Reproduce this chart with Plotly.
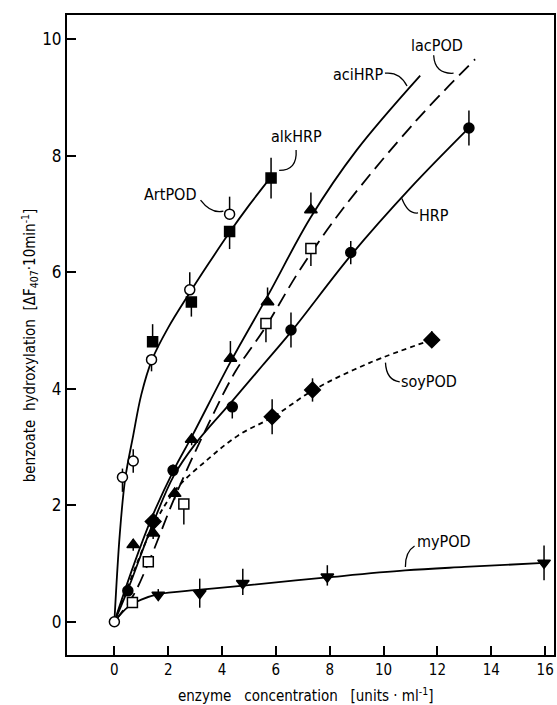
import plotly.graph_objects as go

# ---------------- data ----------------
art_x = [0.0, 0.30, 0.70, 1.38, 2.80, 4.28]
art_y = [0.0, 2.48, 2.76, 4.50, 5.70, 7.00]
art_up = [0.0, 0.15, 0.20, 0.0, 0.30, 0.30]
art_dn = [0.0, 0.25, 0.20, 0.20, 0.0, 0.0]

alk_x = [1.42, 2.86, 4.28, 5.82]
alk_y = [4.81, 5.49, 6.70, 7.62]
alk_up = [0.30, 0.0, 0.0, 0.35]
alk_dn = [0.0, 0.25, 0.30, 0.35]

aci_x = [0.70, 1.44, 2.24, 2.87, 4.31, 5.69, 7.30]
aci_y = [1.32, 1.52, 2.20, 3.13, 4.52, 5.49, 7.07]
aci_up = [0.10, 0.10, 0.10, 0.10, 0.30, 0.25, 0.30]
aci_dn = [0.10, 0.10, 0.10, 0.10, 0.0, 0.0, 0.0]

lac_x = [0.67, 1.26, 2.58, 5.63, 7.30]
lac_y = [0.33, 1.03, 2.02, 5.12, 6.41]
lac_up = [0.0, 0.0, 0.0, 0.0, 0.0]
lac_dn = [0.0, 0.0, 0.35, 0.32, 0.30]

hrp_x = [0.50, 2.18, 4.38, 6.56, 8.78, 13.17]
hrp_y = [0.53, 2.60, 3.69, 5.01, 6.34, 8.48]
hrp_up = [0.0, 0.10, 0.10, 0.30, 0.20, 0.30]
hrp_dn = [0.0, 0.10, 0.20, 0.30, 0.20, 0.30]

soy_x = [1.44, 5.86, 7.36, 11.79]
soy_y = [1.72, 3.52, 3.98, 4.84]
soy_up = [0.10, 0.30, 0.20, 0.15]
soy_dn = [0.10, 0.30, 0.20, 0.05]

my_x = [1.63, 3.17, 4.77, 7.91, 15.96]
my_y = [0.46, 0.49, 0.66, 0.77, 1.01]
my_up = [0.10, 0.25, 0.25, 0.20, 0.30]
my_dn = [0.05, 0.25, 0.20, 0.15, 0.30]

# fitted curves
art_cx = [0.0, 0.2, 0.4, 0.7, 1.0, 1.4, 2.0, 2.8, 3.5, 4.3, 5.0, 5.82]
art_cy = [0.0, 1.5, 2.45, 3.2, 3.9, 4.5, 5.05, 5.65, 6.15, 6.7, 7.15, 7.64]

aci_cx = [0.0, 0.7, 1.4, 2.2, 2.9, 4.3, 5.7, 7.3, 9.0, 11.36]
aci_cy = [0.0, 0.95, 1.8, 2.6, 3.2, 4.45, 5.6, 6.95, 8.1, 9.38]

lac_cx = [0.0, 0.7, 1.3, 2.3, 3.5, 4.5, 5.6, 6.9, 8.5, 11.2, 13.4]
lac_cy = [0.0, 0.45, 1.05, 2.2, 3.4, 4.3, 5.05, 6.05, 7.1, 8.6, 9.66]

hrp_cx = [0.0, 0.5, 1.4, 2.2, 3.0, 4.4, 5.5, 6.6, 8.8, 11.0, 13.17]
hrp_cy = [0.0, 0.55, 1.65, 2.5, 3.05, 3.8, 4.4, 5.0, 6.3, 7.45, 8.48]

soy_cx = [0.0, 0.5, 1.4, 2.3, 3.5, 4.6, 5.9, 7.4, 9.5, 11.79]
soy_cy = [0.0, 0.6, 1.6, 2.28, 2.8, 3.2, 3.52, 3.98, 4.45, 4.84]

my_cx = [0.0, 0.5, 1.0, 1.6, 3.2, 4.8, 7.9, 10.8, 13.0, 15.96]
my_cy = [0.0, 0.25, 0.38, 0.47, 0.55, 0.62, 0.76, 0.88, 0.94, 1.01]

x_ticks = [0, 2, 4, 6, 8, 10, 12, 14, 16]
y_ticks = [0, 2, 4, 6, 8, 10]

labels = ["ArtPOD", "alkHRP", "aciHRP", "lacPOD", "HRP", "soyPOD", "myPOD"]
label_x = [2.08, 6.77, 9.08, 11.97, 11.86, 11.69, 12.26]
label_y = [7.34, 8.34, 9.39, 9.90, 6.98, 4.12, 1.37]

FONT = "DejaVu Sans Condensed, Liberation Sans Narrow, DejaVu Sans, sans-serif"

fig = go.Figure()

def curve(cx, cy, dash="solid"):
    fig.add_trace(go.Scatter(x=cx, y=cy, mode="lines", line_shape="spline",
                             line=dict(color="black", width=1.8, dash=dash),
                             hoverinfo="skip", showlegend=False))

def pts(x, y, up, dn, symbol, filled=True, size=10):
    fig.add_trace(go.Scatter(
        x=x, y=y, mode="markers", showlegend=False,
        marker=dict(symbol=symbol, size=size,
                    color="black" if filled else "white",
                    line=dict(color="black", width=1.5)),
        error_y=dict(type="data", symmetric=False, array=up, arrayminus=dn,
                     width=0, thickness=1.5, color="black")))

curve(art_cx, art_cy)
curve(aci_cx, aci_cy)
curve(lac_cx, lac_cy, dash="14px,7px")
curve(hrp_cx, hrp_cy)
curve(soy_cx, soy_cy, dash="5px,4px")
curve(my_cx, my_cy)

pts(alk_x, alk_y, alk_up, alk_dn, "square", True, 10)
pts(aci_x, aci_y, aci_up, aci_dn, "triangle-up", True, 11)
pts(lac_x, lac_y, lac_up, lac_dn, "square", False, 10)
pts(hrp_x, hrp_y, hrp_up, hrp_dn, "circle", True, 10)
pts(soy_x, soy_y, soy_up, soy_dn, "diamond", True, 12)
pts(my_x, my_y, my_up, my_dn, "triangle-down", True, 11)
pts(art_x, art_y, art_up, art_dn, "circle", False, 10)

for t, lx, ly in zip(labels, label_x, label_y):
    fig.add_annotation(x=lx, y=ly, text=t, showarrow=False,
                       xanchor="center", yanchor="middle",
                       font=dict(family=FONT, size=16, color="black"))

# curved leader lines
leaders = [
    "M 3.20,7.24 Q 3.6,7.0 4.05,7.05",
    "M 6.75,8.10 Q 6.8,7.75 6.12,7.75",
    "M 10.05,9.42 Q 10.6,9.45 10.87,9.20",
    "M 11.86,9.73 Q 11.9,9.40 12.60,9.42",
    "M 11.28,7.02 Q 10.9,7.0 10.68,7.27",
    "M 10.60,4.12 Q 10.1,4.15 10.07,4.45",
    "M 11.15,1.30 Q 10.8,1.2 10.81,0.94",
]
for p in leaders:
    fig.add_shape(type="path", path=p, xref="x", yref="y",
                  line=dict(color="black", width=1.3))

fig.add_annotation(xref="paper", yref="paper", x=-0.078, y=0.484,
                   xanchor="center", yanchor="middle",
                   textangle=-90, showarrow=False,
                   text="benzoate  hydroxylation  [ΔF<sub>407</sub>·10min<sup>-1</sup>]",
                   font=dict(family=FONT, size=15, color="black"))
fig.add_annotation(xref="paper", yref="paper", x=0.489, y=-0.0625,
                   xanchor="center", yanchor="middle",
                   showarrow=False,
                   text="enzyme   concentration   [units · ml<sup>-1</sup>]",
                   font=dict(family=FONT, size=15, color="black"))

fig.update_layout(
    width=557, height=705,
    margin=dict(l=67, r=1, t=15, b=50),
    plot_bgcolor="white", paper_bgcolor="white",
    showlegend=False,
    xaxis=dict(range=[-1.76, 16.33], tickvals=x_ticks, ticks="inside",
               ticklen=9, tickwidth=1.5, tickcolor="black",
               showline=True, linecolor="black", linewidth=2, mirror=True,
               showgrid=False, zeroline=False,
               tickfont=dict(family=FONT, size=15, color="black")),
    yaxis=dict(range=[-0.572, 10.42], tickvals=y_ticks, ticks="inside",
               ticklen=9, tickwidth=1.5, tickcolor="black",
               showline=True, linecolor="black", linewidth=2, mirror=True,
               showgrid=False, zeroline=False,
               tickfont=dict(family=FONT, size=17, color="black")),
)

# remove the default 8px page margin so the 557x705 figure fills the window
fig.write_html("out.html",
               config={"displayModeBar": False},
               post_script="document.body.style.margin='0';"
                           "document.body.style.overflow='hidden';")
